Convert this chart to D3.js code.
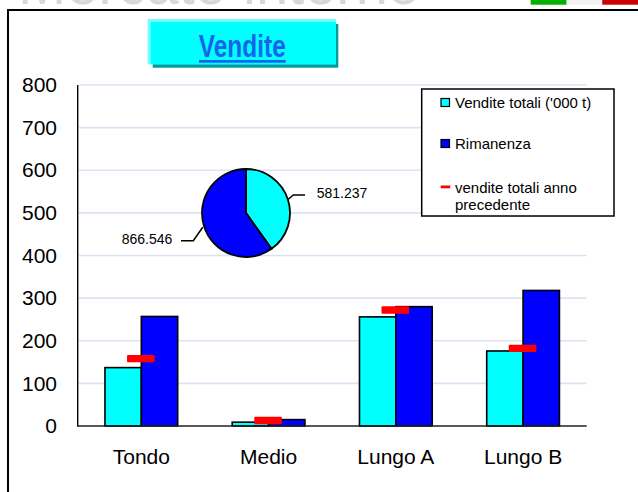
<!DOCTYPE html>
<html>
<head>
<meta charset="utf-8">
<script src="https://cdn.jsdelivr.net/npm/d3@7/dist/d3.min.js"></script>
<style>
  html, body { margin: 0; padding: 0; background: #fff; }
  svg { display: block; font-family: Arial, "Liberation Sans", sans-serif; }
</style>
</head>
<body>
<svg id="chart" width="638" height="492"></svg>
<script>
// ---- data ----
const categories = ["Tondo", "Medio", "Lungo A", "Lungo B"];
const seriesNames = ["Vendite totali ('000  t)", "Rimanenza", "vendite totali anno precedente"];
const venditeTotali = [137, 9, 256, 176];
const rimanenza = [257, 15, 280, 318];
const venditePrecedenti = [158, 13, 272, 182];
const yTicks = [0, 100, 200, 300, 400, 500, 600, 700, 800];
const pieLabels = ["581.237", "866.546"];
const pieValues = [581.237, 866.546];
const chartTitle = "Vendite";

const svg = d3.select("#chart");

// slide decoration: cut-off heading and flag
svg.append("text").attr("x", 18).attr("y", 4).attr("font-size", 62)
  .attr("fill", "#d8d8d8").attr("textLength", 402).attr("lengthAdjust", "spacingAndGlyphs")
  .text("Mercato interno");
const flagColors = ["#00b000", "#f2f2f2", "#cc0000"];
const flag = d3.scaleBand().domain(d3.range(3)).range([530.7, 638]);
svg.selectAll("rect.flag").data(flagColors).join("rect").attr("class", "flag")
  .attr("x", (d, i) => flag(i)).attr("y", 0).attr("width", flag.bandwidth() + 0.3).attr("height", 4.7)
  .attr("fill", d => d);

// outer frame
svg.append("path").attr("d", "M8,492 V10 H640").attr("fill", "none")
  .attr("stroke", "#000").attr("stroke-width", 2);

// title box
svg.append("rect").attr("x", 152.7).attr("y", 24).attr("width", 185.6).attr("height", 43.7).attr("fill", "#009a9a");
svg.append("rect").attr("x", 147.7).attr("y", 19).attr("width", 188.3).attr("height", 45.3).attr("fill", "#70ffff");
svg.append("rect").attr("x", 150.7).attr("y", 22).attr("width", 185.3).attr("height", 42.3).attr("fill", "#00ffff");
svg.append("text").attr("x", 242.3).attr("y", 56.5).attr("text-anchor", "middle")
  .attr("font-size", 31).attr("font-weight", "bold").attr("fill", "#1464f0")
  .attr("textLength", 87).attr("lengthAdjust", "spacingAndGlyphs").text(chartTitle);
svg.append("rect").attr("x", 199).attr("y", 60).attr("width", 86.7).attr("height", 2.7).attr("fill", "#1464f0");

// scales
const x0 = d3.scaleBand().domain(categories).range([77.7, 586.7]).padding(0);
const x1 = d3.scaleBand().domain([0, 1]).range([0, x0.bandwidth()]).paddingInner(0).paddingOuter(0.75);
const y = d3.scaleLinear().domain([0, 800]).range([426, 85]);

// gridlines
svg.append("g").selectAll("line").data(yTicks.filter(d => d > 0)).join("line")
  .attr("x1", 79).attr("x2", 586.7).attr("y1", d => y(d)).attr("y2", d => y(d))
  .attr("stroke", "#dbe3f3").attr("stroke-width", 1.6);

// y axis labels
const yAxis = d3.axisLeft(y).tickValues(yTicks).tickSize(0).tickPadding(0).tickFormat(d3.format("d"));
const ya = svg.append("g").attr("transform", "translate(57,0)").call(yAxis);
ya.select(".domain").remove();
ya.selectAll("text").attr("font-size", 21).attr("fill", "#000").attr("font-family", "Arial, 'Liberation Sans', sans-serif");

// bars
const barData = categories.map((c, i) => [
  { c, s: 0, v: venditeTotali[i], color: "#00ffff" },
  { c, s: 1, v: rimanenza[i], color: "#0000ff" }
]).flat();
svg.append("g").selectAll("rect").data(barData).join("rect")
  .attr("x", d => x0(d.c) + x1(d.s)).attr("width", x1.bandwidth())
  .attr("y", d => y(d.v)).attr("height", d => y(0) - y(d.v))
  .attr("fill", d => d.color).attr("stroke", "#000").attr("stroke-width", 1.6);

// previous-year markers
svg.append("g").selectAll("rect").data(categories).join("rect")
  .attr("x", d => x0(d) + x0.bandwidth() / 2 - 14.3).attr("width", 27.6)
  .attr("y", (d, i) => y(venditePrecedenti[i]) - 3.7).attr("height", 7.4)
  .attr("rx", 1).attr("fill", "#ff0000");

// axes lines
svg.append("line").attr("x1", 77.7).attr("x2", 77.7).attr("y1", 85).attr("y2", 426.5)
  .attr("stroke", "#000").attr("stroke-width", 1.4);
svg.append("line").attr("x1", 77).attr("x2", 586.7).attr("y1", 426).attr("y2", 426)
  .attr("stroke", "#222").attr("stroke-width", 1.4);

// x labels
const xAxis = d3.axisBottom(x0).tickSize(0).tickPadding(0);
const xa = svg.append("g").attr("transform", "translate(0,449)").call(xAxis);
xa.select(".domain").remove();
xa.selectAll("text").attr("font-size", 21).attr("fill", "#000").attr("font-family", "Arial, 'Liberation Sans', sans-serif");

// legend
const lg = svg.append("g");
lg.append("rect").attr("x", 421.7).attr("y", 89).attr("width", 192.3).attr("height", 127)
  .attr("fill", "#fff").attr("stroke", "#000").attr("stroke-width", 1.5);
const legendY = [103, 144];
[["#00ffff", 0], ["#0000ff", 1]].forEach(([col, i]) => {
  lg.append("rect").attr("x", 441).attr("y", legendY[i] - 4.5).attr("width", 8.5).attr("height", 8)
    .attr("fill", col).attr("stroke", "#000").attr("stroke-width", 1.2);
  lg.append("text").attr("x", 455).attr("y", legendY[i] + 5.3).attr("font-size", 15).attr("fill", "#000")
    .text(seriesNames[i]);
});
lg.append("rect").attr("x", 440.7).attr("y", 185.5).attr("width", 9.5).attr("height", 2.8).attr("fill", "#ff0000");
const lt = lg.append("text").attr("font-size", 15).attr("fill", "#000");
const words = seriesNames[2].split(" ");
lt.append("tspan").attr("x", 455).attr("y", 193.3).text(words.slice(0, 3).join(" "));
lt.append("tspan").attr("x", 455).attr("y", 210.3).text(words.slice(3).join(" "));

// pie
const pie = d3.pie().sort(null)(pieValues);
const arc = d3.arc().innerRadius(0).outerRadius(44);
const pg = svg.append("g").attr("transform", "translate(246,213)");
pg.selectAll("path").data(pie).join("path").attr("d", arc)
  .attr("fill", (d, i) => i === 0 ? "#00ffff" : "#0000ff")
  .attr("stroke", "#000").attr("stroke-width", 1.8);
// leader lines & labels
svg.append("path").attr("d", "M288.3,199.3 L293.3,195 H305").attr("fill", "none").attr("stroke", "#000").attr("stroke-width", 1.5);
svg.append("path").attr("d", "M202.7,227.3 L193.3,240.7 H181").attr("fill", "none").attr("stroke", "#000").attr("stroke-width", 1.5);
svg.append("text").attr("x", 316.7).attr("y", 198.3).attr("font-size", 14).attr("fill", "#000").text(pieLabels[0]);
svg.append("text").attr("x", 172.3).attr("y", 244.3).attr("font-size", 14).attr("text-anchor", "end").attr("fill", "#000").text(pieLabels[1]);
</script>
</body>
</html>
